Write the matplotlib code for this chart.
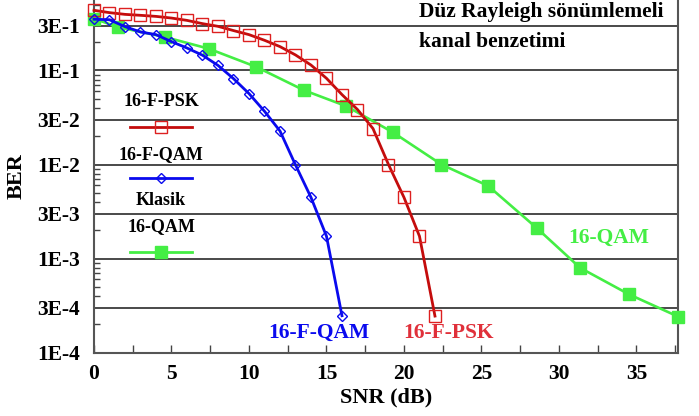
import numpy as np
import matplotlib.pyplot as plt
from matplotlib.lines import Line2D
from matplotlib.ticker import FixedLocator, LogLocator, NullFormatter

plt.rcParams['font.family'] = ['Liberation Serif', 'DejaVu Serif']
plt.rcParams['font.weight'] = 'bold'

# 16-F-PSK (kırmızı)
snr_fpsk = [0, 1, 2, 3, 4, 5, 6, 7, 8, 9, 10, 11, 12, 13, 14, 15, 16,
            17, 18, 19, 20, 21, 22]
ber_fpsk = [0.435, 0.411, 0.394, 0.385, 0.375, 0.360, 0.340, 0.314, 0.294,
            0.265, 0.240, 0.209, 0.179, 0.146, 0.114, 0.0824, 0.0553,
            0.0384, 0.0241, 0.0100, 0.00447, 0.00173, 0.000245]

# 16-F-QAM (mavi)
snr_fqam = [0, 1, 2, 3, 4, 5, 6, 7, 8, 9, 10, 11, 12, 13, 14, 15, 16]
ber_fqam = [0.35, 0.345, 0.292, 0.256, 0.240, 0.202, 0.173, 0.145, 0.113,
            0.0818, 0.0567, 0.0368, 0.0227, 0.0099, 0.00447, 0.00173,
            0.000247]

# Klasik 16-QAM (yeşil)
snr_qam = [0, 1.53, 4.59, 7.41, 10.47, 13.55, 16.29, 19.30, 22.42, 25.43,
           28.60, 31.36, 34.52, 37.71]
ber_qam = [0.355, 0.289, 0.226, 0.170, 0.109, 0.0615, 0.0416, 0.0219,
           0.0100, 0.00593, 0.00209, 0.000799, 0.000417, 0.000241]

ytick_vals = [1e-4, 3e-4, 1e-3, 3e-3, 1e-2, 3e-2, 1e-1, 3e-1]
ytick_labels = ['1E-4', '3E-4', '1E-3', '3E-3', '1E-2', '3E-2', '1E-1', '3E-1']

RED_LINE = '#c40c0c'
RED_MK = '#dd2020'
RED_TXT = '#e0303a'
BLUE = '#0a0aee'
GREEN = '#44ee44'

W, H = 699, 416
fig = plt.figure(figsize=(W / 100, H / 100), dpi=100)
ax = fig.add_axes([94 / W, 1 - 352.7 / H, (678.3 - 94) / W, 352.7 / H])


def px(x, y):
    # piksel -> figür koordinatı
    return x / W, 1 - y / H


ax.plot(snr_fpsk, ber_fpsk, color=RED_LINE, lw=2.0, marker='s', ms=8,
        mfc='none', mec=RED_MK, mew=1.0, zorder=4, clip_on=False)
ax.plot(snr_qam, ber_qam, color=GREEN, lw=1.9, marker='s', ms=8.5,
        mfc=GREEN, mec=GREEN, zorder=3, clip_on=False)
ax.plot(snr_fqam, ber_fqam, color=BLUE, lw=2.0, marker='D', ms=5,
        mfc='none', mec=BLUE, mew=1.0, zorder=5, clip_on=False)

ax.set_yscale('log')
ax.set_xlim(0, 37.7)
ax.set_ylim(1e-4, 0.56)

ax.yaxis.set_major_locator(FixedLocator(ytick_vals))
ax.set_yticklabels(ytick_labels)
ax.yaxis.set_minor_locator(LogLocator(base=10, subs=np.arange(2, 10)))
ax.yaxis.set_minor_formatter(NullFormatter())
ax.set_xticks([0, 5, 10, 15, 20, 25, 30, 35])
ax.set_xticks(np.arange(2.5, 38, 2.5), minor=True)

ax.tick_params(axis='y', which='major', length=0, pad=10, labelsize=15.5)
ax.tick_params(axis='y', which='minor', direction='in', length=4,
               width=1, color='#444444')
ax.tick_params(axis='x', which='both', direction='in', length=6, width=1,
               color='#444444', labelsize=15.5, pad=8)

ax.grid(True, axis='y', which='major', color='#3a3a3a', lw=1.3)
ax.grid(False, axis='x')

for side in ['left', 'right', 'bottom']:
    ax.spines[side].set_color('#555555')
    ax.spines[side].set_linewidth(1.5)
ax.spines['top'].set_visible(False)

ax.set_xlabel('SNR (dB)', fontsize=16, fontweight='bold', labelpad=3)
ax.set_ylabel('BER', fontsize=16, fontweight='bold', labelpad=8)

# Başlık
fig.text(*px(419, 12), 'Düz Rayleigh sönümlemeli', fontsize=15.5,
         fontweight='bold', ha='left', va='center')
fig.text(*px(419, 42), 'kanal benzetimi', fontsize=15.5,
         fontweight='bold', ha='left', va='center')

# Eğri etiketleri
fig.text(*px(609, 238), '16-QAM', fontsize=15.5, color=GREEN,
         fontweight='bold', ha='center', va='center')
fig.text(*px(319, 333), '16-F-QAM', fontsize=15.5, color=BLUE,
         fontweight='bold', ha='center', va='center')
fig.text(*px(449, 333), '16-F-PSK', fontsize=15.5, color=RED_TXT,
         fontweight='bold', ha='center', va='center')

# Açıklama kutusu
legend_items = [
    (['16-F-PSK'], [102], 127, RED_LINE, 's', 8, 'none', RED_MK),
    (['16-F-QAM'], [155], 178, BLUE, 'D', 5, 'none', BLUE),
    (['Klasik', '16-QAM'], [200, 227], 252, GREEN, 's', 8.5, GREEN, GREEN),
]
for labels, ys, ly, col, mk, ms, mfc, mec in legend_items:
    for lab, yy in zip(labels, ys):
        fig.text(*px(161, yy), lab, fontsize=13, fontweight='bold',
                 ha='center', va='center')
    x0, y0 = px(130, ly)
    x1, _ = px(192, ly)
    fig.add_artist(Line2D([x0, x1], [y0, y0], color=col, lw=2.0,
                          transform=fig.transFigure))
    fig.add_artist(Line2D([(x0 + x1) / 2], [y0], color=col, marker=mk,
                          ms=ms, mfc=mfc, mec=mec, mew=1.0,
                          transform=fig.transFigure))

fig.savefig('out.png', dpi=100)
